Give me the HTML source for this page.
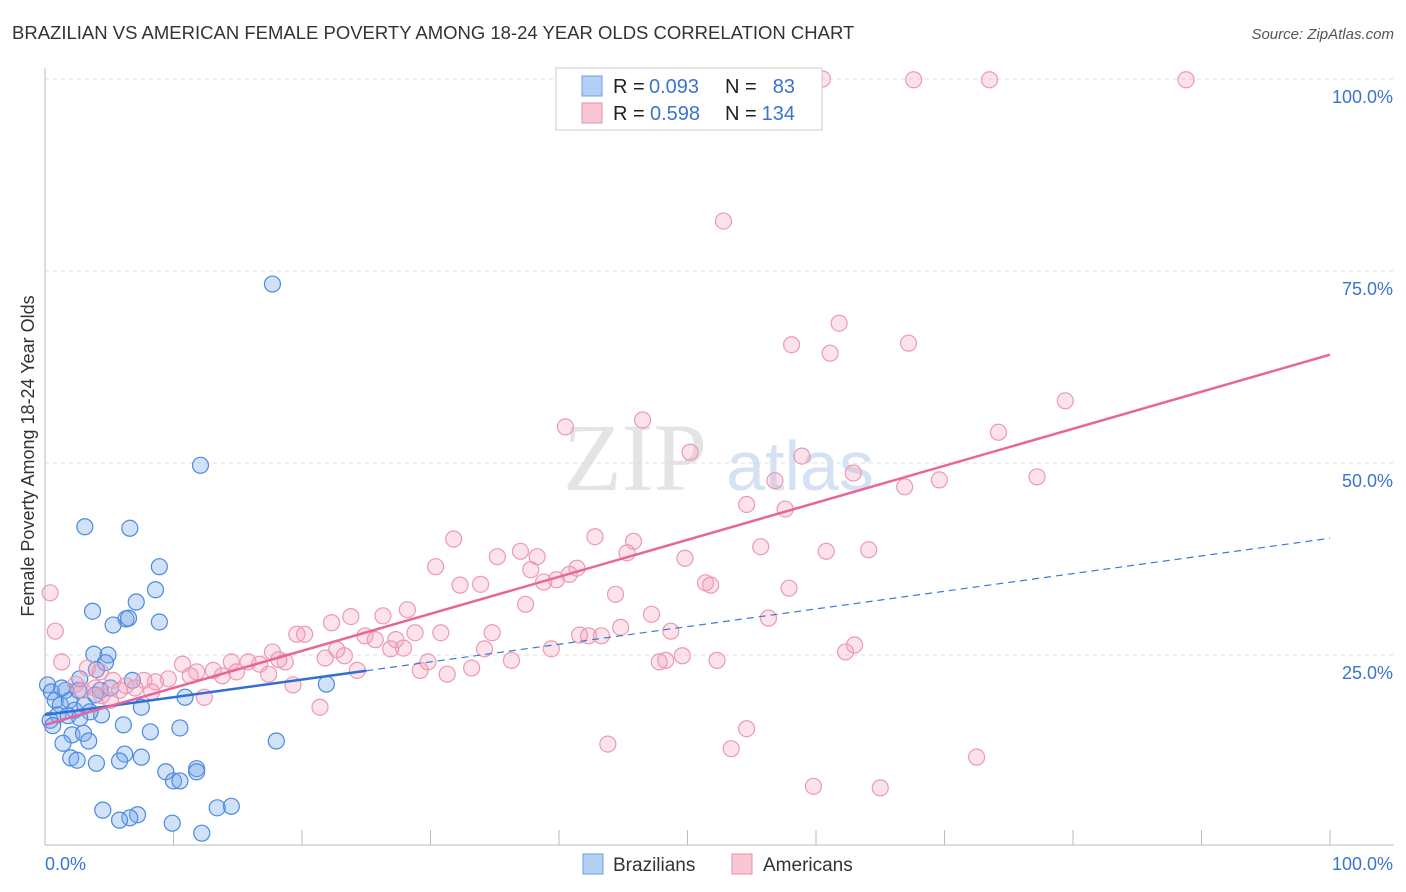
<!DOCTYPE html>
<html><head><meta charset="utf-8"><style>
body{margin:0;background:#fff;font-family:"Liberation Sans",sans-serif;}
#c{position:absolute;left:0;top:0;width:1406px;height:892px;}
</style></head><body>
<svg id="c" width="1406" height="892">
<text x="12" y="39" font-size="18.5" fill="#333">BRAZILIAN VS AMERICAN FEMALE POVERTY AMONG 18-24 YEAR OLDS CORRELATION CHART</text>
<text x="1394" y="39" font-size="15" fill="#555" font-style="italic" text-anchor="end">Source: ZipAtlas.com</text>
<text x="0" y="0" transform="translate(34,456) rotate(-90)" font-size="18" fill="#333" text-anchor="middle">Female Poverty Among 18-24 Year Olds</text>
<g><text x="635" y="490" font-size="96" fill="#e4e4e4" font-family="Liberation Serif,serif" text-anchor="middle">ZIP</text><text x="800" y="490" font-size="70" fill="#d4e2f4" text-anchor="middle">atlas</text></g>
<g id="grid"></g><g id="axes"></g><g id="pts"></g><g id="lines"></g>
<g>
<rect x="556" y="68" width="266" height="62" fill="#fff" stroke="#ccc"/>
<rect x="582" y="76" width="20" height="20" fill="#b3cff5" stroke="#6a9fe6"/>
<rect x="582" y="103" width="20" height="20" fill="#f9c6d4" stroke="#ea8fab"/>
<text x="613" y="93" font-size="20" fill="#222">R =</text>
<text x="649" y="93" font-size="20" fill="#3a74d0">0.093</text>
<text x="725" y="93" font-size="20" fill="#222">N =</text>
<text x="795" y="93" font-size="20" fill="#3a74d0" text-anchor="end">83</text>
<text x="613" y="120" font-size="20" fill="#222">R =</text>
<text x="650" y="120" font-size="20" fill="#3a74d0">0.598</text>
<text x="725" y="120" font-size="20" fill="#222">N =</text>
<text x="795" y="120" font-size="20" fill="#3a74d0" text-anchor="end">134</text>
</g>
<g>
<rect x="583" y="854" width="20" height="20" fill="#b3cff5" stroke="#6a9fe6"/>
<text x="613" y="871" font-size="19" fill="#333">Brazilians</text>
<rect x="732" y="854" width="20" height="20" fill="#f9c6d4" stroke="#ea8fab"/>
<text x="763" y="871" font-size="19" fill="#333">Americans</text>
</g>
</svg>
<script>
const yTicks=[25,50,75,100];
const yTickLabels=["25.0%","50.0%","75.0%","100.0%"];
const xTickVals=[0,10,20,30,40,50,60,70,80,90,100];
const braX=[17.7,12.1,3.1,6.6,8.9,8.6,7.1,3.7,6.3,6.5,8.9,5.3,3.8,4.9,4.7,4.0,2.7,6.8,21.9,10.9,7.5,4.4,6.1,8.2,10.5,2.1,3.0,3.4,1.4,18.0,6.2,7.5,2.0,2.5,4.0,5.8,9.4,11.8,11.8,10.0,10.5,4.5,14.5,13.4,7.2,6.6,5.8,9.9,12.2,0.2,0.5,0.8,1.2,1.6,1.9,2.3,1.0,0.4,3.1,3.5,1.3,4.3,3.9,5.1,2.6,1.8,0.6,2.7];
const braY=[73.3,49.7,41.7,41.5,36.5,33.5,31.9,30.7,29.7,29.8,29.3,28.9,25.1,25.0,24.0,23.1,21.9,21.7,21.2,19.5,18.2,17.2,15.9,15.0,15.5,14.6,14.8,13.8,13.5,13.8,12.1,11.7,11.6,11.3,10.9,11.2,9.8,10.2,9.8,8.6,8.6,4.8,5.3,5.1,4.2,3.8,3.5,3.1,1.8,21.1,20.2,19.1,18.5,20.4,19.1,17.8,17.2,16.5,18.5,17.6,20.7,20.4,19.8,20.7,20.4,17.1,15.8,16.8];
const amX=[60.5,67.6,73.5,88.8,52.8,61.8,58.1,67.2,61.1,79.4,46.5,40.5,74.2,50.2,58.9,62.9,56.8,69.6,77.2,66.9,54.6,57.6,31.8,42.8,45.8,55.7,60.8,64.1,35.2,37.0,38.3,45.3,49.8,30.4,37.8,41.4,40.8,39.8,38.8,32.3,33.9,51.4,51.8,57.9,44.4,37.4,28.2,26.3,23.8,47.2,56.3,22.3,44.8,48.7,28.8,30.8,34.8,41.6,42.3,43.3,19.6,20.2,24.9,25.7,27.3,63.0,62.3,39.4,27.9,34.2,26.9,22.7,23.3,17.7,21.8,49.6,48.3,47.8,52.3,36.3,29.8,33.2,14.5,15.8,16.7,18.7,18.2,10.7,13.1,14.9,17.4,24.3,29.2,31.3,11.8,9.6,8.6,7.7,11.3,13.8,1.3,3.3,4.3,5.3,6.3,2.4,2.9,3.9,5.8,7.0,19.3,8.3,12.4,5.1,4.4,21.4,0.4,0.8,43.8,54.6,53.4,72.5,59.8,65.0];
const amY=[100,99.9,99.9,99.9,81.5,68.2,65.4,65.6,64.3,58.1,55.6,54.7,54.0,51.4,50.9,48.7,47.7,47.8,48.2,46.9,44.6,44.0,40.1,40.4,39.8,39.1,38.5,38.7,37.8,38.5,37.8,38.3,37.6,36.5,36.1,36.3,35.5,34.8,34.5,34.1,34.2,34.4,34.1,33.7,32.9,31.6,30.9,30.1,30.0,30.3,29.8,29.2,28.6,28.1,27.9,27.9,27.9,27.6,27.5,27.5,27.7,27.7,27.5,27.0,27.0,26.3,25.4,25.8,25.9,25.8,25.8,25.7,24.9,25.4,24.6,24.9,24.3,24.1,24.3,24.3,24.1,23.3,24.1,24.1,23.8,24.1,24.4,23.8,23.0,22.8,22.5,23.0,23.0,22.5,22.8,21.9,21.5,21.7,22.3,22.3,24.1,23.3,22.8,21.7,21.0,21.2,20.4,20.7,20.4,20.7,21.1,20.2,19.5,19.1,19.7,18.2,33.1,28.1,13.4,15.4,12.8,11.7,7.9,7.7];
const braTrend=[17.2,0.23];
const amTrend=[15.9,0.482];
const NS="http://www.w3.org/2000/svg";
const sx=v=>45+v*12.85, sy=v=>847-v*7.68;
function mk(tag,parent,attrs){const e=document.createElementNS(NS,tag);for(const k in attrs)e.setAttribute(k,attrs[k]);document.getElementById(parent).appendChild(e);return e;}
yTicks.forEach((t,i)=>{
 const g=mk('line','grid',{x1:45,x2:1394,y1:sy(t),y2:sy(t),stroke:'#ddd','stroke-dasharray':'4,4'});
 
 
 const l=mk('text','axes',{x:1393,y:sy(t)+24,'font-size':18,fill:'#3a74d0','text-anchor':'end'});
 l.textContent=yTickLabels[i];
 
 
});
const ax=mk('line','axes',{x1:45,x2:1394,y1:845,y2:845,stroke:'#bbb'});


const ay=mk('line','axes',{x1:45,x2:45,y1:68,y2:845,stroke:'#bbb'});


xTickVals.forEach(t=>{const e=mk('line','axes',{x1:sx(t),x2:sx(t),y1:830,y2:845,stroke:'#bbb'});
 
 });
const x0=mk('text','axes',{x:45,y:870,'font-size':18,fill:'#3a74d0'});x0.textContent='0.0%';


const x1=mk('text','axes',{x:1393,y:870,'font-size':18,fill:'#3a74d0','text-anchor':'end'});x1.textContent='100.0%';


braX.forEach((x,i)=>{const c=mk('circle','pts',{cx:sx(x),cy:sy(braY[i]),r:8,fill:'rgba(120,170,235,0.35)',stroke:'#4a8ae0','stroke-width':1.2});
 
 });
amX.forEach((x,i)=>{const c=mk('circle','pts',{cx:sx(x),cy:sy(amY[i]),r:8,fill:'rgba(245,160,185,0.3)',stroke:'#eb9ab4','stroke-width':1.2});
 
 });
const f=(t,x)=>t[0]+t[1]*x;
const bd=mk('line','lines',{x1:sx(25),y1:sy(f(braTrend,25)),x2:sx(100),y2:sy(f(braTrend,100)),stroke:'#3a7ad8','stroke-width':1.2,'stroke-dasharray':'7,5'});


const bs=mk('line','lines',{x1:sx(0),y1:sy(f(braTrend,0)),x2:sx(25),y2:sy(f(braTrend,25)),stroke:'#2f6fd6','stroke-width':2.5});


const as=mk('line','lines',{x1:sx(0),y1:sy(f(amTrend,0)),x2:sx(100),y2:sy(f(amTrend,100)),stroke:'#e8659a','stroke-width':2.5});


</script>
</body></html>
